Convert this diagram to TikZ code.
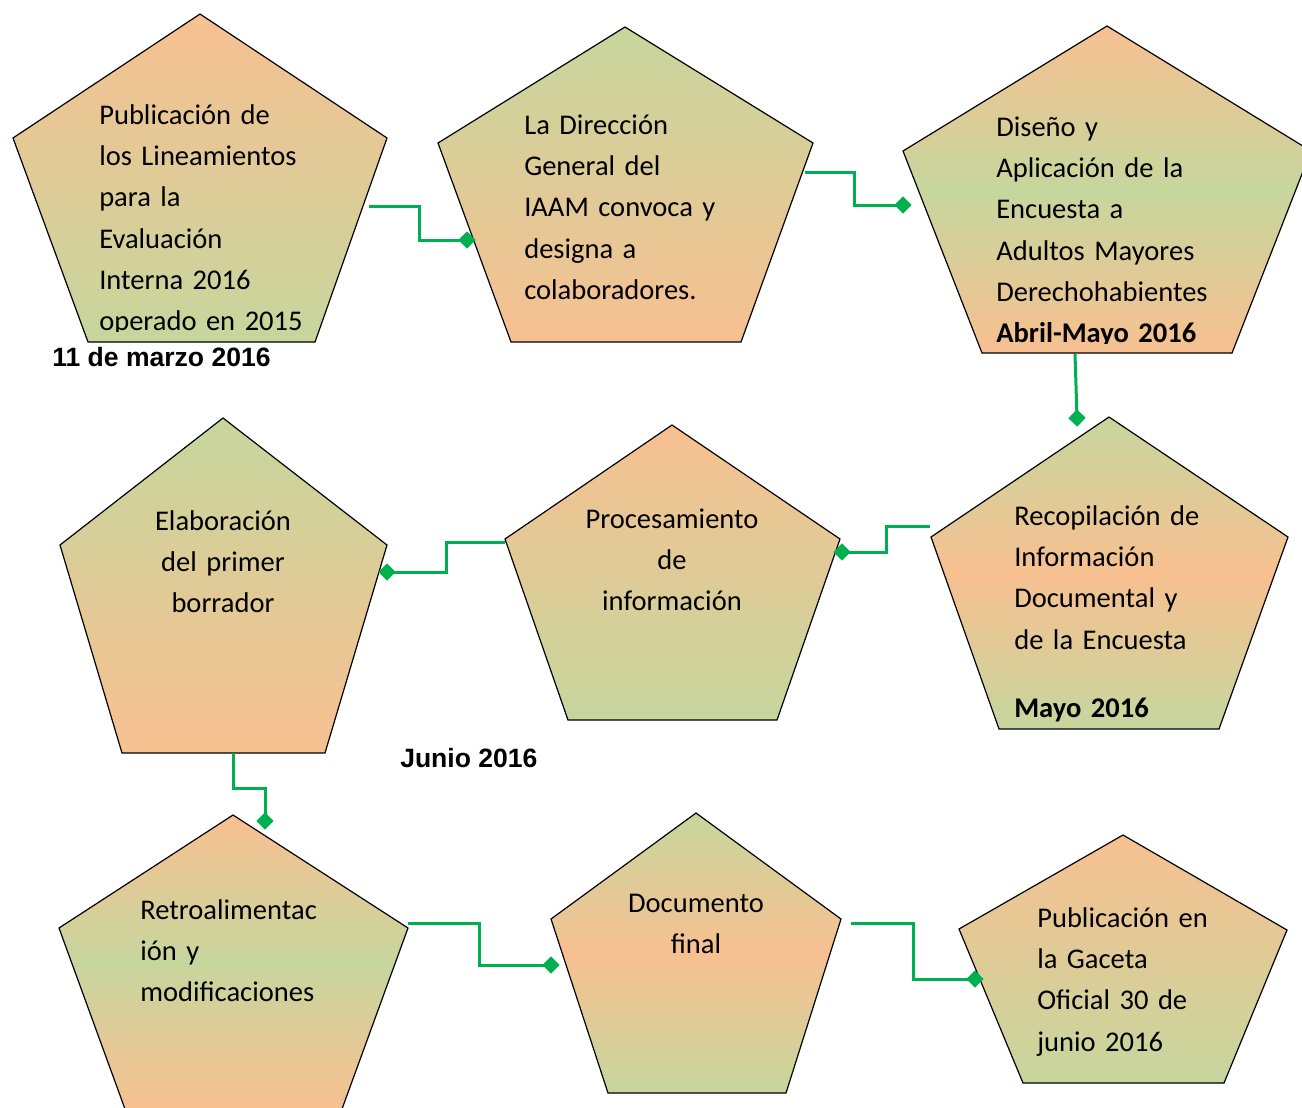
\documentclass[tikz,border=0pt]{standalone}
\usepackage{fontspec}
\setmainfont{Carlito}
\newfontfamily\arialfont{Liberation Sans}
\usetikzlibrary{arrows.meta}
\definecolor{peach}{HTML}{F8C091}
\definecolor{sage}{HTML}{C6D69D}
\definecolor{linkgreen}{HTML}{00B050}
\tikzset{%
  % Specifications for the pentagons:
            pent/.style = {draw=black, line width=0.9pt, line join=miter},
            peachTop/.style = {pent, top color=peach, bottom color=sage},
            sageTop/.style = {pent, top color=sage, bottom color=peach},
            peachBand/.style = {pent, top color=sage, bottom color=sage, middle color=peach},
            sageBand/.style = {pent, top color=peach, bottom color=peach, middle color=sage},
  % Specifications for texts and links:
            boxText/.style = {inner sep=0pt, text width=8cm, align=left, anchor=base west,
                              font=\fontsize{21.4}{31}\selectfont},
            boxTextC/.style = {boxText, align=center, anchor=base},
            dateText/.style = {inner sep=0pt, anchor=base west,
                               font=\arialfont\bfseries\fontsize{19.9}{23}\selectfont},
            link/.style = {draw=linkgreen, line width=2.25pt,
                           -{Diamond[length=13pt,width=13pt]}, shorten >=-6.5pt},
}

\begin{document}
\begin{tikzpicture}[x=0.75pt, y=-0.75pt]
  \useasboundingbox (0,0) rectangle (1302,1107);
  \clip (0,0) rectangle (1302,1107);

  % Pentagons
     \draw[peachTop]  (200,14) -- (387,138) -- (315,342) -- (88,342) -- (13,138) -- cycle;
     \draw[sageTop]   (625,27) -- (813,143) -- (741,342) -- (511,342) -- (438,143) -- cycle;
     \draw[sageBand]  (1107,26) -- (1311,151) -- (1232,353) -- (982,353) -- (903,151) -- cycle;
     \draw[peachBand] (1109,417) -- (1288,537) -- (1219,729) -- (999,729) -- (931,537) -- cycle;
     \draw[peachTop]  (672,425) -- (840,539) -- (777,720) -- (568,720) -- (505,539) -- cycle;
     \draw[sageTop]   (223,418) -- (387,545) -- (325,753) -- (122,753) -- (60,545) -- cycle;
     \draw[sageBand]  (233,815) -- (408,928) -- (342,1109) -- (125,1109) -- (59,928) -- cycle;
     \draw[peachBand] (696,813) -- (841,919) -- (786,1093) -- (608,1093) -- (551,919) -- cycle;
     \draw[peachTop]  (1123,835) -- (1287,930) -- (1224,1083) -- (1023,1083) -- (959,929) -- cycle;

  % Texts
     \begin{scope}
       \clip (0,0) rectangle (1302,331);
       \node (publicacion) [boxText] at (99,124) {Publicación de\\los Lineamientos\\para la\\Evaluación\\Interna 2016\\operado en 2015};
     \end{scope}
     \node (direccion) [boxText] at (524,134) {La Dirección\\General del\\IAAM convoca y\\designa a\\colaboradores.};
     \begin{scope}
       \clip (0,0) rectangle (1302,343.5);
       \node (diseno) [boxText] at (996,136) {Diseño y\\Aplicación de la\\Encuesta a\\Adultos Mayores\\Derechohabientes\\\textbf{Abril-Mayo 2016}};
     \end{scope}
     \node (recopilacion) [boxText] at (1014,525) {Recopilación de\\Información\\Documental y\\de la Encuesta\\[20.25pt]\textbf{Mayo 2016}};
     \node (procesamiento) [boxTextC] at (672,528) {Procesamiento\\de\\información};
     \node (elaboracion) [boxTextC] at (223,530) {Elaboración\\del primer\\borrador};
     \node (retro) [boxText] at (140,919) {Retroalimentac\\ión y\\modificaciones};
     \node (final) [boxTextC] at (696,912) {Documento\\final};
     \node (gaceta) [boxText] at (1037,927) {Publicación en\\la Gaceta\\Oficial 30 de\\junio 2016};

     \node (marzo) [dateText] at (52,366) {11 de marzo 2016};
     \node (junio) [dateText] at (400,767) {Junio 2016};

  % Link ends
     \coordinate (publicacion-out) at (369,206);
     \coordinate (direccion-in) at (467,240);
     \coordinate (direccion-out) at (805,172);
     \coordinate (diseno-in) at (903,205);
     \coordinate (diseno-out) at (1075,354);
     \coordinate (recopilacion-in) at (1077,418);
     \coordinate (recopilacion-out) at (930,526);
     \coordinate (procesamiento-in) at (842,552);
     \coordinate (procesamiento-out) at (505,542);
     \coordinate (elaboracion-in) at (387,572);
     \coordinate (elaboracion-out) at (233,753);
     \coordinate (retro-in) at (265,821);
     \coordinate (retro-out) at (408,923);
     \coordinate (final-in) at (551,965);
     \coordinate (final-out) at (851,923);
     \coordinate (gaceta-in) at (975,979);

  % Links
     \draw[link] (publicacion-out) --+(50,0) |- (direccion-in);
     \draw[link] (direccion-out) --+(49,0) |- (diseno-in);
     \draw[link] (diseno-out) -- (recopilacion-in);
     \draw[link] (recopilacion-out) --+(-44,0) |- (procesamiento-in);
     \draw[link] (procesamiento-out) --+(-59,0) |- (elaboracion-in);
     \draw[link] (elaboracion-out) --+(0,35) -| (retro-in);
     \draw[link] (retro-out) --+(71,0) |- (final-in);
     \draw[link] (final-out) --+(62,0) |- (gaceta-in);

\end{tikzpicture}
\end{document}
